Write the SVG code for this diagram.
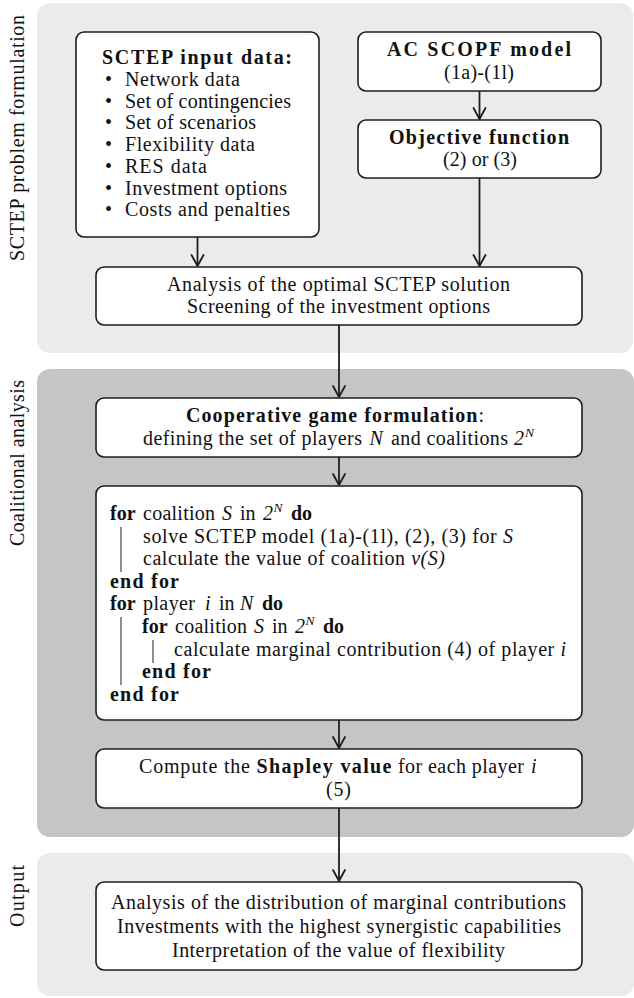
<svg xmlns="http://www.w3.org/2000/svg" width="634" height="998" viewBox="0 0 634 998">
<defs>
<style>
.t{font-family:'Liberation Serif','DejaVu Serif',serif;font-size:20px;fill:#111111}
.b{font-weight:bold}
.i{font-style:italic}
.sup{font-size:13.5px;font-style:italic}
.box{fill:#ffffff;stroke:#1e1e1e;stroke-width:1.6}
.pl{fill:#ebebeb}
.pd{fill:#c5c5c5}
.c{stroke:#1e1e1e;stroke-width:1.8;fill:none}
.bar{stroke:#333333;stroke-width:1.1}
</style>
<marker id="ah" markerUnits="userSpaceOnUse" viewBox="-13 -8 15 16" refX="0" refY="0" markerWidth="15" markerHeight="16" orient="auto" overflow="visible">
<path d="M-11,-6 L0,0 L-11,6" fill="none" stroke="#1e1e1e" stroke-width="1.8" stroke-linejoin="round" stroke-linecap="round"/>
</marker>
</defs>

<g id="panel-formulation">
<rect class="pl" x="37" y="3" width="596" height="350" rx="13"/>
<text class="t" transform="translate(24,261) rotate(-90)" textLength="246">SCTEP problem formulation</text>
</g>
<g id="panel-coalitional">
<rect class="pd" x="37" y="369" width="597" height="468" rx="13"/>
<text class="t" transform="translate(23.5,546) rotate(-90)" textLength="166">Coalitional analysis</text>
</g>
<g id="panel-output">
<rect class="pl" x="37" y="853" width="597" height="143" rx="13"/>
<text class="t" transform="translate(23.5,927) rotate(-90)" textLength="62">Output</text>
</g>

<g id="input-data">
<rect class="box" x="76" y="32" width="243" height="205" rx="8"/>
<text class="t b" x="102" y="64" textLength="190">SCTEP input data:</text>
<text class="t" x="105" y="86">•</text>
<text class="t" x="125" y="86" textLength="115">Network data</text>
<text class="t" x="105" y="107.7">•</text>
<text class="t" x="125" y="107.7" textLength="166">Set of contingencies</text>
<text class="t" x="105" y="129.4">•</text>
<text class="t" x="125" y="129.4" textLength="131">Set of scenarios</text>
<text class="t" x="105" y="151.1">•</text>
<text class="t" x="125" y="151.1" textLength="130">Flexibility data</text>
<text class="t" x="105" y="172.8">•</text>
<text class="t" x="125" y="172.8" textLength="82">RES data</text>
<text class="t" x="105" y="194.5">•</text>
<text class="t" x="125" y="194.5" textLength="162">Investment options</text>
<text class="t" x="105" y="216.2">•</text>
<text class="t" x="125" y="216.2" textLength="165">Costs and penalties</text>
</g>

<g id="ac-scopf">
<rect class="box" x="358" y="32" width="243" height="59" rx="8"/>
<text class="t b" x="387" y="56" textLength="184">AC SCOPF model</text>
<text class="t" x="444" y="78.5" textLength="70">(1a)-(1l)</text>
</g>

<g id="objective">
<rect class="box" x="358" y="120" width="243" height="58" rx="8"/>
<text class="t b" x="389" y="143.5" textLength="180">Objective function</text>
<text class="t" x="443" y="166" textLength="74">(2) or (3)</text>
</g>

<g id="analysis">
<rect class="box" x="96" y="267" width="486" height="58" rx="8"/>
<text class="t" x="167" y="290.5" textLength="343">Analysis of the optimal SCTEP solution</text>
<text class="t" x="187" y="313" textLength="303">Screening of the investment options</text>
</g>

<g id="coop-game">
<rect class="box" x="96" y="398" width="486" height="59" rx="8"/>
<text class="t" x="186" y="422" textLength="298"><tspan class="b">Cooperative game formulation</tspan>:</text>
<text class="t" y="444.5"><tspan x="143" textLength="219">defining the set of players</tspan><tspan x="369.5" class="i">N</tspan><tspan x="391" textLength="117">and coalitions</tspan><tspan x="514" class="i">2</tspan><tspan x="525" dy="-8" class="sup">N</tspan></text>
</g>

<g id="algorithm">
<rect class="box" x="96" y="486" width="486" height="234" rx="8"/>
<text class="t" y="520"><tspan x="110" class="b">for</tspan><tspan x="143" textLength="72">coalition</tspan><tspan x="222" class="i">S</tspan><tspan x="240">in</tspan><tspan x="263" class="i">2</tspan><tspan x="273.5" dy="-8" class="sup">N</tspan><tspan x="291" dy="8" class="b">do</tspan></text>
<text class="t" x="143" y="542.6" textLength="370">solve SCTEP model (1a)-(1l), (2), (3) for <tspan class="i">S</tspan></text>
<text class="t" x="143" y="565.2" textLength="302">calculate the value of coalition <tspan class="i">v(S)</tspan></text>
<text class="t b" x="110" y="587.8" textLength="69">end for</text>
<text class="t" y="610.4"><tspan x="110" class="b">for</tspan><tspan x="143" textLength="52">player</tspan><tspan x="205" class="i">i</tspan><tspan x="219">in</tspan><tspan x="240" class="i">N</tspan><tspan x="262" class="b">do</tspan></text>
<text class="t" y="633"><tspan x="142" class="b">for</tspan><tspan x="175" textLength="72">coalition</tspan><tspan x="254" class="i">S</tspan><tspan x="272">in</tspan><tspan x="295" class="i">2</tspan><tspan x="305.5" dy="-8" class="sup">N</tspan><tspan x="323" dy="8" class="b">do</tspan></text>
<text class="t" x="174" y="655.6" textLength="392">calculate marginal contribution (4) of player <tspan class="i">i</tspan></text>
<text class="t b" x="142" y="678.2" textLength="69">end for</text>
<text class="t b" x="110" y="700.8" textLength="69">end for</text>
<line class="bar" x1="121" y1="527" x2="121" y2="572"/>
<line class="bar" x1="121" y1="617" x2="121" y2="685"/>
<line class="bar" x1="153" y1="640" x2="153" y2="663"/>
</g>

<g id="shapley">
<rect class="box" x="96" y="749" width="486" height="59" rx="8"/>
<text class="t" y="773"><tspan x="139" textLength="111">Compute the</tspan><tspan x="256.5" class="b" textLength="135">Shapley value</tspan><tspan x="398" textLength="126">for each player</tspan><tspan x="531" class="i">i</tspan></text>
<text class="t" x="326" y="795.5" textLength="25">(5)</text>
</g>

<g id="output">
<rect class="box" x="96" y="882" width="486" height="88" rx="8"/>
<text class="t" x="111" y="908.5" textLength="455">Analysis of the distribution of marginal contributions</text>
<text class="t" x="117" y="932.5" textLength="444">Investments with the highest synergistic capabilities</text>
<text class="t" x="172" y="956.5" textLength="333">Interpretation of the value of flexibility</text>
</g>

<g id="connectors">
<line class="c" x1="197.5" y1="237" x2="197.5" y2="266" marker-end="url(#ah)"/>
<line class="c" x1="479.5" y1="91" x2="479.5" y2="119" marker-end="url(#ah)"/>
<line class="c" x1="479.5" y1="178" x2="479.5" y2="266" marker-end="url(#ah)"/>
<line class="c" x1="339" y1="325" x2="339" y2="397" marker-end="url(#ah)"/>
<line class="c" x1="339" y1="457" x2="339" y2="485" marker-end="url(#ah)"/>
<line class="c" x1="339" y1="720" x2="339" y2="748" marker-end="url(#ah)"/>
<line class="c" x1="339" y1="808" x2="339" y2="881" marker-end="url(#ah)"/>
</g>
</svg>
